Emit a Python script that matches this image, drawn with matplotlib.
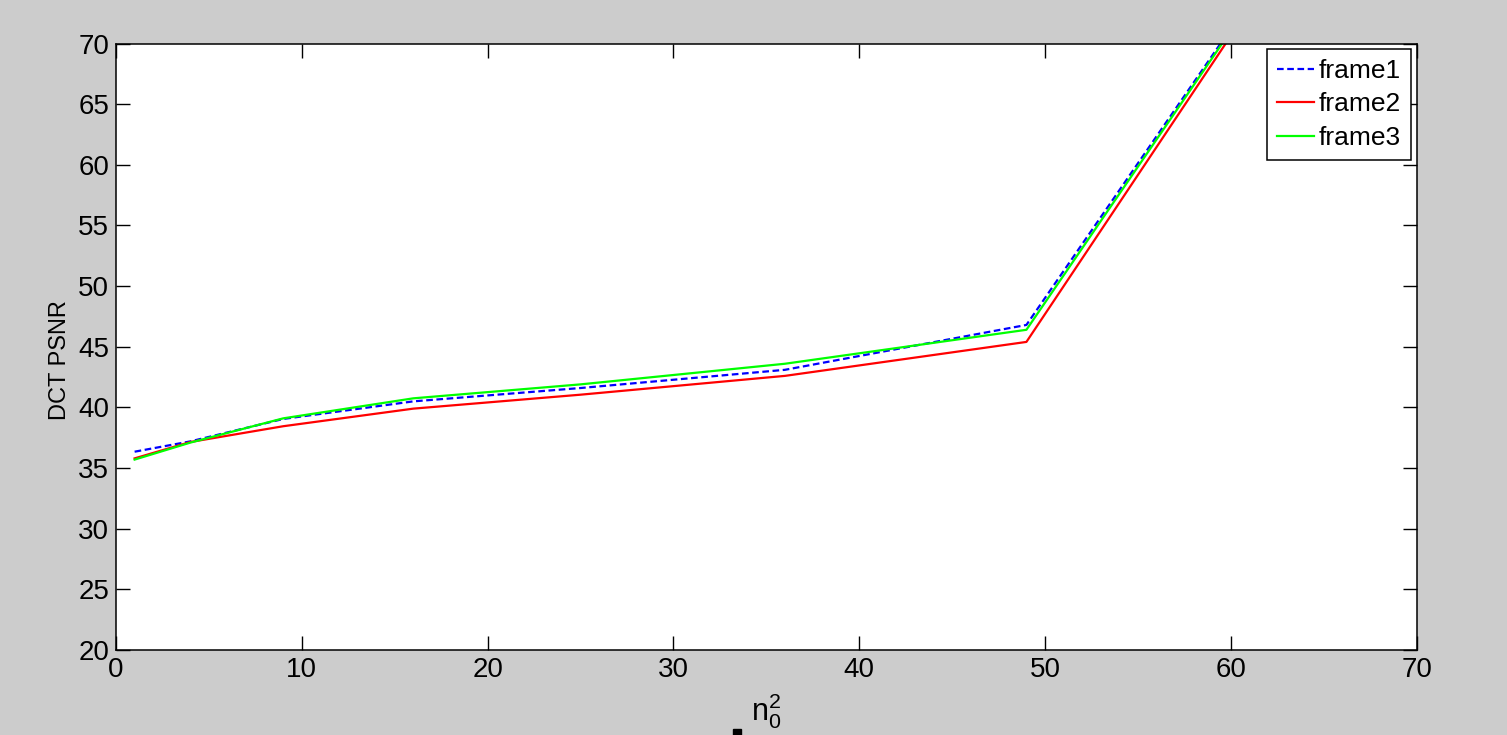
import matplotlib
matplotlib.use("Agg")
import matplotlib.pyplot as plt
from matplotlib.patches import Rectangle

# n0^2 values and PSNR per frame
n0_sq = [1, 4, 9, 16, 25, 36, 49, 64]
frame1 = [36.35, 37.2, 39.05, 40.5, 41.6, 43.1, 46.8, 80.1]
frame2 = [35.8, 37.15, 38.45, 39.9, 41.05, 42.6, 45.4, 79.8]
frame3 = [35.7, 37.1, 39.1, 40.75, 41.9, 43.6, 46.4, 80.0]

x_ticks = list(range(0, 71, 10))
y_ticks = list(range(20, 71, 5))


def main():
    plt.rcParams["font.family"] = ["Liberation Sans", "DejaVu Sans"]
    plt.rcParams["mathtext.fontset"] = "custom"
    plt.rcParams["mathtext.rm"] = "Liberation Sans"
    plt.rcParams["mathtext.it"] = "Liberation Sans"

    fig = plt.figure(figsize=(15.07, 7.35), dpi=100, facecolor="#cccccc")
    ax = fig.add_axes([0.077, 0.1156, 0.863, 0.8252])
    ax.set_facecolor("white")

    ax.plot(n0_sq, frame1, color="#0000ff", lw=1.6, dashes=(3, 1.6), label="frame1")
    ax.plot(n0_sq, frame2, color="#ff0000", lw=1.6, label="frame2")
    ax.plot(n0_sq, frame3, color="#00ff00", lw=1.6, label="frame3")

    ax.set_xlim(0, 70)
    ax.set_ylim(20, 70)
    ax.set_xticks(x_ticks)
    ax.set_yticks(y_ticks)
    ax.tick_params(direction="in", length=10, width=1, labelsize=20,
                   top=True, right=True, pad=5)
    for s in ax.spines.values():
        s.set_linewidth(1.1)

    ax.set_xlabel(r"$\mathrm{n}_0^2$", fontsize=22, labelpad=6)
    ax.set_ylabel("DCT PSNR", fontsize=17)
    ax.yaxis.set_label_coords(-0.035, 0.478)

    leg = ax.legend(loc="upper right", fontsize=19, fancybox=False,
                    framealpha=1, edgecolor="black", handlelength=1.4,
                    handletextpad=0.2, labelspacing=0.36, borderpad=0.38,
                    borderaxespad=0.2)
    leg.get_frame().set_linewidth(1.1)

    # small stray mark under the x label
    fig.patches.append(Rectangle((733 / 1507, 0), 8 / 1507, 6 / 735,
                                 transform=fig.transFigure, color="black"))

    fig.savefig("out.png", dpi=100, facecolor=fig.get_facecolor())


if __name__ == "__main__":
    main()
